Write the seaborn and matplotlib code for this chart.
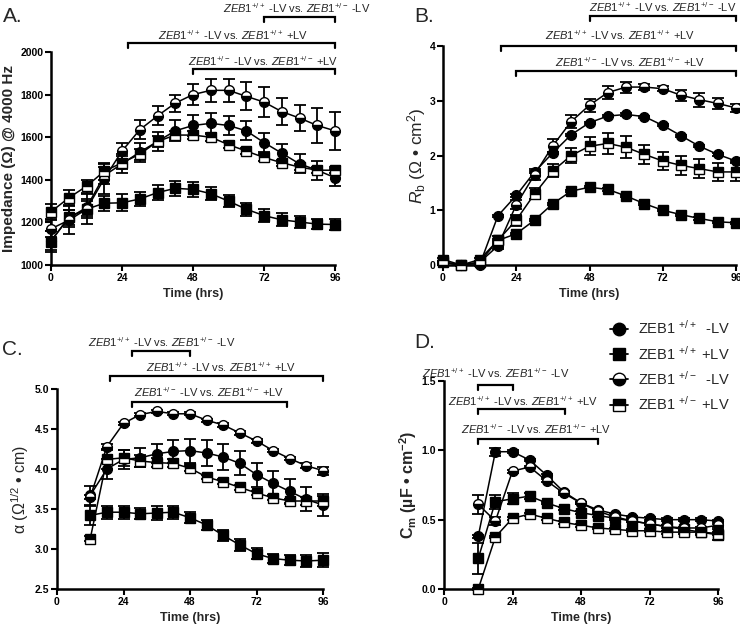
import numpy as np
import pandas as pd
import matplotlib
matplotlib.use("Agg")
import matplotlib.pyplot as plt
import matplotlib.transforms as mtransforms
from matplotlib.lines import Line2D
import seaborn as sns

# ---------------- data ----------------
series_names = ["ZEB1 +/+ -LV", "ZEB1 +/+ +LV", "ZEB1 +/- -LV", "ZEB1 +/- +LV"]
legend_labels = ["ZEB1 $^{+/+}$  -LV", "ZEB1 $^{+/+}$ +LV", "ZEB1 $^{+/-}$  -LV", "ZEB1 $^{+/-}$ +LV"]

time_ab = [0, 6, 12, 18, 24, 30, 36, 42, 48, 54, 60, 66, 72, 78, 84, 90, 96]
time_cd = [12, 18, 24, 30, 36, 42, 48, 54, 60, 66, 72, 78, 84, 90, 96]

# Panel A: impedance at 4000 Hz
imp_wt_nolv = [1115, 1220, 1270, 1420, 1475, 1530, 1580, 1630, 1655, 1665, 1655, 1630, 1575, 1525, 1475, 1445, 1410]
imp_wt_lv = [1110, 1225, 1262, 1290, 1292, 1310, 1340, 1360, 1355, 1335, 1300, 1262, 1232, 1212, 1202, 1192, 1190]
imp_het_nolv = [1170, 1210, 1262, 1405, 1535, 1635, 1700, 1760, 1800, 1820, 1820, 1792, 1765, 1720, 1690, 1655, 1630]
imp_het_lv = [1250, 1315, 1370, 1440, 1480, 1520, 1580, 1610, 1610, 1600, 1565, 1535, 1505, 1480, 1460, 1445, 1445]
imp_wt_nolv_err = [45, 40, 40, 40, 45, 45, 45, 50, 50, 50, 45, 45, 45, 45, 45, 45, 40]
imp_wt_lv_err = [50, 35, 40, 35, 40, 35, 35, 35, 35, 30, 30, 30, 30, 30, 30, 25, 25]
imp_het_nolv_err = [40, 65, 70, 70, 40, 45, 45, 40, 50, 55, 55, 65, 70, 65, 60, 80, 90]
imp_het_lv_err = [35, 35, 30, 40, 30, 25, 25, 20, 20, 20, 15, 15, 15, 15, 15, 15, 15]

# Panel B: Rb
rb_wt_nolv = [0.05, 0.0, 0.0, 0.90, 1.27, 1.70, 2.05, 2.38, 2.60, 2.72, 2.75, 2.71, 2.55, 2.36, 2.17, 2.02, 1.90]
rb_wt_lv = [0.05, 0.0, 0.05, 0.45, 0.57, 0.82, 1.12, 1.35, 1.42, 1.38, 1.26, 1.12, 1.00, 0.92, 0.85, 0.79, 0.77]
rb_het_nolv = [0.05, 0.0, 0.05, 0.35, 1.10, 1.65, 2.18, 2.62, 2.92, 3.15, 3.25, 3.25, 3.22, 3.10, 3.02, 2.95, 2.87]
rb_het_lv = [0.10, 0.0, 0.10, 0.45, 0.82, 1.30, 1.72, 2.00, 2.17, 2.22, 2.15, 2.02, 1.90, 1.82, 1.76, 1.70, 1.70]
rb_wt_nolv_err = [0.02, 0.01, 0.01, 0.02, 0.02, 0.02, 0.02, 0.02, 0.02, 0.02, 0.02, 0.02, 0.02, 0.02, 0.02, 0.02, 0.02]
rb_wt_lv_err = [0.02, 0.01, 0.01, 0.02, 0.02, 0.02, 0.02, 0.02, 0.02, 0.02, 0.02, 0.02, 0.02, 0.02, 0.02, 0.02, 0.02]
rb_het_nolv_err = [0.02, 0.01, 0.02, 0.05, 0.08, 0.10, 0.12, 0.12, 0.12, 0.12, 0.10, 0.05, 0.05, 0.10, 0.13, 0.10, 0.07]
rb_het_lv_err = [0.02, 0.01, 0.02, 0.08, 0.10, 0.10, 0.12, 0.13, 0.16, 0.20, 0.20, 0.17, 0.17, 0.17, 0.17, 0.17, 0.17]

# Panel C: alpha
al_wt_nolv = [3.67, 4.00, 4.12, 4.14, 4.19, 4.22, 4.23, 4.20, 4.15, 4.07, 3.93, 3.82, 3.72, 3.62, 3.55]
al_wt_lv = [3.42, 3.46, 3.46, 3.44, 3.45, 3.46, 3.39, 3.30, 3.17, 3.05, 2.94, 2.88, 2.86, 2.85, 2.86]
al_het_nolv = [3.65, 4.28, 4.57, 4.68, 4.72, 4.69, 4.69, 4.61, 4.55, 4.45, 4.35, 4.23, 4.13, 4.04, 3.98]
al_het_lv = [3.13, 4.12, 4.14, 4.10, 4.08, 4.07, 4.01, 3.90, 3.84, 3.77, 3.70, 3.64, 3.60, 3.60, 3.60]
al_wt_nolv_err = [0.12, 0.12, 0.12, 0.12, 0.12, 0.14, 0.15, 0.16, 0.16, 0.15, 0.15, 0.16, 0.16, 0.15, 0.14]
al_wt_lv_err = [0.12, 0.08, 0.08, 0.07, 0.09, 0.08, 0.07, 0.06, 0.07, 0.07, 0.07, 0.06, 0.06, 0.07, 0.09]
al_het_nolv_err = [0.03, 0.03, 0.02, 0.02, 0.02, 0.02, 0.02, 0.02, 0.02, 0.02, 0.02, 0.02, 0.02, 0.03, 0.05]
al_het_lv_err = [0.03, 0.12, 0.10, 0.08, 0.06, 0.05, 0.04, 0.03, 0.03, 0.03, 0.03, 0.03, 0.03, 0.05, 0.06]

# Panel D: Cm
cm_wt_nolv = [0.38, 0.99, 0.99, 0.93, 0.82, 0.70, 0.62, 0.57, 0.54, 0.52, 0.51, 0.50, 0.50, 0.50, 0.49]
cm_wt_lv = [0.22, 0.63, 0.65, 0.67, 0.62, 0.58, 0.55, 0.53, 0.51, 0.49, 0.47, 0.45, 0.43, 0.41, 0.39]
cm_het_nolv = [0.61, 0.49, 0.85, 0.88, 0.78, 0.69, 0.62, 0.56, 0.52, 0.49, 0.47, 0.45, 0.44, 0.44, 0.46]
cm_het_lv = [0.0, 0.375, 0.51, 0.54, 0.51, 0.48, 0.46, 0.44, 0.43, 0.42, 0.42, 0.41, 0.41, 0.41, 0.40]
cm_wt_nolv_err = [0.01, 0.03, 0.01, 0.01, 0.01, 0.01, 0.01, 0.01, 0.01, 0.01, 0.01, 0.01, 0.01, 0.01, 0.01]
cm_wt_lv_err = [0.11, 0.05, 0.04, 0.02, 0.01, 0.01, 0.01, 0.01, 0.01, 0.01, 0.01, 0.01, 0.01, 0.02, 0.04]
cm_het_nolv_err = [0.07, 0.03, 0.01, 0.01, 0.01, 0.01, 0.01, 0.01, 0.01, 0.01, 0.01, 0.01, 0.01, 0.01, 0.01]
cm_het_lv_err = [0.01, 0.01, 0.01, 0.01, 0.01, 0.01, 0.01, 0.01, 0.01, 0.01, 0.01, 0.01, 0.01, 0.01, 0.01]

x_ticks = [0, 24, 48, 72, 96]

# ---------------- style ----------------
sns.set_theme(style="ticks")
plt.rcParams['font.family'] = ['Liberation Sans', 'DejaVu Sans']
plt.rcParams['mathtext.fontset'] = 'custom'
plt.rcParams['mathtext.rm'] = 'Liberation Sans'
plt.rcParams['mathtext.it'] = 'Liberation Sans:italic'
plt.rcParams['mathtext.bf'] = 'Liberation Sans:bold'

W, H = 740, 627
fig = plt.figure(figsize=(W / 100, H / 100), dpi=100)


def px_axes(l, r, t, b):
    return fig.add_axes([l / W, 1 - b / H, (r - l) / W, (b - t) / H])


styles = [
    dict(marker='o', fillstyle='full'),
    dict(marker='s', fillstyle='full'),
    dict(marker='o', fillstyle='bottom'),
    dict(marker='s', fillstyle='top'),
]


def draw_panel(ax, t, ys, errs):
    for i, (y, e) in enumerate(zip(ys, errs)):
        df = pd.DataFrame({"t": t, "v": y})
        ax.errorbar(t, y, yerr=e, fmt='none', ecolor='black', elinewidth=1.3,
                    capsize=4, capthick=1.3, zorder=2 + i * 0.1, clip_on=False)
        sns.lineplot(data=df, x="t", y="v", ax=ax, color='black', linewidth=1.1,
                     markersize=7, markeredgecolor='black', markeredgewidth=1.0,
                     markerfacecolor='black', markerfacecoloralt='white',
                     errorbar=None, legend=False, zorder=3 + i * 0.1, clip_on=False,
                     **styles[i])


def style_axes(ax, ylim, yticks, yticklabels):
    ax.set_xlim(0, 96)
    ax.set_ylim(*ylim)
    ax.set_xticks(x_ticks)
    ax.set_xticklabels([str(v) for v in x_ticks])
    ax.set_yticks(yticks)
    ax.set_yticklabels(yticklabels)
    for s in ['top', 'right']:
        ax.spines[s].set_visible(False)
    for s in ['left', 'bottom']:
        ax.spines[s].set_linewidth(1.8)
        ax.spines[s].set_color('black')
    ax.tick_params(axis='both', direction='out', length=4, width=1.5, colors='black',
                   labelsize=7.5, pad=1.5)
    for lab in ax.get_xticklabels() + ax.get_yticklabels():
        lab.set_fontweight('bold')
    ax.set_xlabel("Time (hrs)", fontsize=9, fontweight='bold', labelpad=4)


def bracket(ax, x0, x1, ypx, tx, typx, label):
    tr = mtransforms.blended_transform_factory(ax.transData, fig.transFigure)
    y = 1 - ypx / H
    d = 5 / H
    ax.plot([x0, x0, x1, x1], [y - d, y, y, y - d], transform=tr, color='black',
            linewidth=1.6, clip_on=False, solid_joinstyle='miter')
    fig.text(tx / W, 1 - typx / H, label, ha='center', va='center', fontsize=8)


L1 = r'$\mathit{ZEB1}^{\mathit{+/+}}$ -LV vs. $\mathit{ZEB1}^{\mathit{+/-}}$ -LV'
L2 = r'$\mathit{ZEB1}^{\mathit{+/+}}$ -LV vs. $\mathit{ZEB1}^{\mathit{+/+}}$ +LV'
L3 = r'$\mathit{ZEB1}^{\mathit{+/-}}$ -LV vs. $\mathit{ZEB1}^{\mathit{+/-}}$ +LV'

# ---- Panel A ----
axA = px_axes(51, 335, 52, 265)
draw_panel(axA, time_ab, [imp_wt_nolv, imp_wt_lv, imp_het_nolv, imp_het_lv],
           [imp_wt_nolv_err, imp_wt_lv_err, imp_het_nolv_err, imp_het_lv_err])
style_axes(axA, (1000, 2000), [1000, 1200, 1400, 1600, 1800, 2000],
           ["1000", "1200", "1400", "1600", "1800", "2000"])
axA.set_ylabel("Impedance (Ω) @ 4000 Hz", fontsize=11, fontweight='bold', labelpad=3)
bracket(axA, 72, 96, 17, 297, 8, L1)
bracket(axA, 26, 96, 43, 233, 35, L2)
bracket(axA, 48, 96, 69, 263, 61, L3)
fig.text(3 / W, 1 - 16 / H, "A.", fontsize=15, va='center', ha='left')

# ---- Panel B ----
axB = px_axes(443, 736, 46, 265)
draw_panel(axB, time_ab, [rb_wt_nolv, rb_wt_lv, rb_het_nolv, rb_het_lv],
           [rb_wt_nolv_err, rb_wt_lv_err, rb_het_nolv_err, rb_het_lv_err])
style_axes(axB, (0, 4), [0, 1, 2, 3, 4], ["0", "1", "2", "3", "4"])
axB.set_ylabel(r"$R_{\mathrm{b}}$ ($\Omega$ • cm$^{2}$)", fontsize=12.5, labelpad=1)
bracket(axB, 48, 96, 16, 663, 7, L1)
bracket(axB, 19, 96, 46, 620, 35, L2)
bracket(axB, 24, 96, 71, 630, 62, L3)
fig.text(414 / W, 1 - 16 / H, "B.", fontsize=15, va='center', ha='left')

# ---- Panel C ----
axC = px_axes(57, 323, 389, 589)
draw_panel(axC, time_cd, [al_wt_nolv, al_wt_lv, al_het_nolv, al_het_lv],
           [al_wt_nolv_err, al_wt_lv_err, al_het_nolv_err, al_het_lv_err])
style_axes(axC, (2.5, 5.0), [2.5, 3.0, 3.5, 4.0, 4.5, 5.0],
           ["2.5", "3.0", "3.5", "4.0", "4.5", "5.0"])
axC.set_ylabel(r"α ($\Omega^{1/2}$ • cm)", fontsize=11.5, labelpad=3)
bracket(axC, 27, 48, 351, 162, 342, L1)
bracket(axC, 19, 96, 376, 221, 367, L2)
bracket(axC, 27, 83, 402, 209, 392, L3)
fig.text(2 / W, 1 - 349 / H, "C.", fontsize=15, va='center', ha='left')

# ---- Panel D ----
axD = px_axes(444, 718, 381, 589)
draw_panel(axD, time_cd, [cm_wt_nolv, cm_wt_lv, cm_het_nolv, cm_het_lv],
           [cm_wt_nolv_err, cm_wt_lv_err, cm_het_nolv_err, cm_het_lv_err])
style_axes(axD, (0, 1.5), [0.0, 0.5, 1.0, 1.5], ["0.0", "0.5", "1.0", "1.5"])
axD.set_ylabel(r"$\mathbf{C_{m}}$ (µF • cm$^{\mathbf{-2}}$)", fontsize=11.5,
               fontweight='bold', labelpad=2)
bracket(axD, 12, 24, 385, 496, 373, L1)
bracket(axD, 12, 42.5, 409, 523, 401, L2)
bracket(axD, 12, 54, 439, 536, 429, L3)
fig.text(414 / W, 1 - 343 / H, "D.", fontsize=15, va='center', ha='left')

# ---- Legend ----
handles = []
for st in styles:
    handles.append(Line2D([0], [0], color='black', linewidth=1.3, markersize=9,
                          markeredgecolor='black', markerfacecolor='black',
                          markerfacecoloralt='white', markeredgewidth=1.0, **st))
fig.legend(handles, legend_labels, loc='upper left',
           bbox_to_anchor=(603 / W, 1 - 312 / H), frameon=False, fontsize=10.5,
           handlelength=1.2, handletextpad=0.7, labelspacing=0.5, borderpad=0)

fig.savefig("out.png", dpi=100)
